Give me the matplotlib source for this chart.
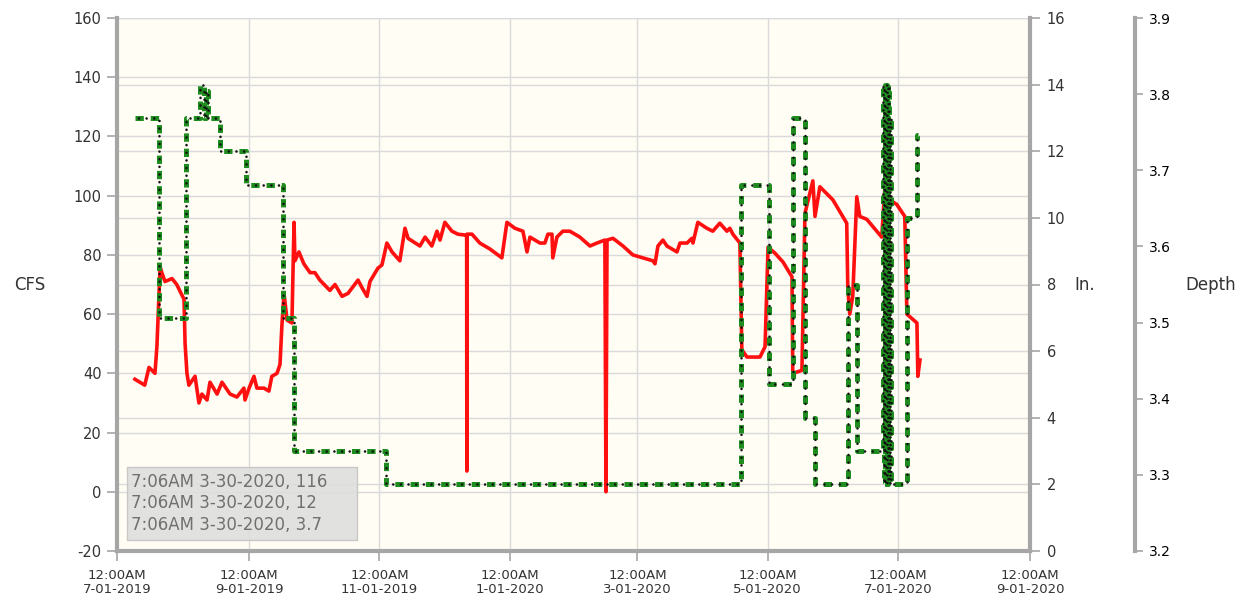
import matplotlib
matplotlib.use("Agg")
import matplotlib.pyplot as plt
from matplotlib.patches import Rectangle
import pandas as pd

plt.rcParams['font.family'] = ['DejaVu Sans']
plt.rcParams['lines.scale_dashes'] = False

# ---------------- data ----------------
cfs_dates = [
    "2019-07-09 10:00", "2019-07-14 00:00", "2019-07-16 00:00", "2019-07-18 19:00",
    "2019-07-19 17:00", "2019-07-21 05:00", "2019-07-22 00:00", "2019-07-23 12:00",
    "2019-07-26 19:00", "2019-07-29 00:00", "2019-08-01 10:00", "2019-08-01 22:00",
    "2019-08-02 19:00", "2019-08-03 17:00", "2019-08-06 14:00", "2019-08-08 10:00",
    "2019-08-09 19:00", "2019-08-12 05:00", "2019-08-13 14:00", "2019-08-16 22:00",
    "2019-08-19 05:00", "2019-08-23 00:00", "2019-08-26 05:00", "2019-08-29 12:00",
    "2019-08-30 00:00", "2019-08-31 22:00", "2019-09-03 05:00", "2019-09-04 14:00",
    "2019-09-07 22:00", "2019-09-10 05:00", "2019-09-11 14:00", "2019-09-14 00:00",
    "2019-09-15 10:00", "2019-09-16 07:00", "2019-09-17 07:00", "2019-09-18 17:00",
    "2019-09-21 00:00", "2019-09-22 00:00", "2019-09-22 10:00", "2019-09-24 07:00",
    "2019-09-26 14:00", "2019-09-29 12:00", "2019-10-01 19:00", "2019-10-04 02:00",
    "2019-10-08 19:00", "2019-10-11 05:00", "2019-10-14 12:00", "2019-10-17 07:00",
    "2019-10-22 00:00", "2019-10-23 19:00", "2019-10-26 05:00", "2019-10-27 14:00",
    "2019-10-31 07:00", "2019-11-02 05:00", "2019-11-04 12:00", "2019-11-06 22:00",
    "2019-11-10 14:00", "2019-11-13 00:00", "2019-11-14 10:00", "2019-11-20 00:00",
    "2019-11-22 10:00", "2019-11-25 14:00", "2019-11-28 00:00", "2019-11-29 10:00",
    "2019-12-01 17:00", "2019-12-05 00:00", "2019-12-07 19:00", "2019-12-11 02:00",
    "2019-12-11 22:00", "2019-12-12 00:00", "2019-12-12 02:00", "2019-12-14 10:00",
    "2019-12-18 02:00", "2019-12-22 19:00", "2019-12-28 10:00", "2019-12-30 19:00",
    "2020-01-03 12:00", "2020-01-07 07:00", "2020-01-09 05:00", "2020-01-10 14:00",
    "2020-01-15 07:00", "2020-01-17 14:00", "2020-01-19 00:00", "2020-01-20 22:00",
    "2020-01-21 07:00", "2020-01-23 05:00", "2020-01-26 00:00", "2020-01-29 07:00",
    "2020-02-03 00:00", "2020-02-07 17:00", "2020-02-11 00:00", "2020-02-14 17:00",
    "2020-02-15 05:00", "2020-02-15 17:00", "2020-02-18 12:00", "2020-02-23 05:00",
    "2020-02-27 19:00", "2020-03-03 12:00", "2020-03-08 05:00", "2020-03-09 05:00",
    "2020-03-10 14:00", "2020-03-12 22:00", "2020-03-14 19:00", "2020-03-19 12:00",
    "2020-03-20 22:00", "2020-03-24 05:00", "2020-03-26 12:00", "2020-03-27 00:00",
    "2020-03-29 07:00", "2020-04-02 12:00", "2020-04-05 07:00", "2020-04-08 14:00",
    "2020-04-11 22:00", "2020-04-13 07:00", "2020-04-14 17:00", "2020-04-18 00:00",
    "2020-04-18 22:00", "2020-04-21 07:00", "2020-04-27 10:00", "2020-04-29 19:00",
    "2020-05-01 05:00", "2020-05-04 10:00", "2020-05-08 05:00", "2020-05-12 10:00",
    "2020-05-12 19:00", "2020-05-17 02:00", "2020-05-18 12:00", "2020-05-22 05:00",
    "2020-05-23 05:00", "2020-05-25 12:00", "2020-05-31 14:00", "2020-06-07 02:00",
    "2020-06-07 14:00", "2020-06-08 12:00", "2020-06-09 22:00", "2020-06-11 19:00",
    "2020-06-13 05:00", "2020-06-16 12:00", "2020-06-23 12:00", "2020-06-25 00:00",
    "2020-06-27 07:00", "2020-06-30 14:00", "2020-07-04 07:00", "2020-07-05 07:00",
    "2020-07-10 00:00", "2020-07-10 10:00", "2020-07-11 10:00",
]
cfs_values = [
    38, 36, 42, 40,
    49, 76, 74, 71,
    72, 70, 65, 50,
    40, 36, 39, 30,
    33, 31, 37, 33,
    37, 33, 32, 35,
    31, 35, 39, 35,
    35, 34, 39, 40,
    43, 56, 67, 58,
    57, 91, 78, 81,
    77, 74, 74, 71.5,
    68, 70, 66, 67,
    71.5, 69, 66, 71,
    75.5, 76.6, 84, 81,
    78, 89, 85.6, 83,
    86, 83, 88, 85,
    91, 88, 87, 86.7,
    86.5, 7, 87, 87,
    84, 82, 79, 91,
    89, 88, 81, 86,
    84, 84, 87, 87,
    79, 86, 88, 88,
    86, 83, 84, 85,
    0, 85, 85.6, 83,
    80, 79, 78, 77,
    83, 85, 83, 81,
    84, 84, 85.6, 84,
    91, 89, 88, 90.7,
    88, 89, 87, 84,
    48, 45.5, 45.5, 49,
    82.6, 80.6, 77.6, 72.6,
    40, 41, 94, 105,
    93, 103, 98.6, 90.7,
    69, 60, 66, 99.6,
    93, 92, 86, 103,
    98.6, 97, 93, 60,
    57, 39, 44.5,
]

in_dates = [
    "2019-07-09 10:00", "2019-07-20 17:00", "2019-08-02 07:00", "2019-08-08 22:00",
    "2019-08-10 19:00", "2019-08-11 17:00", "2019-08-12 17:00", "2019-08-18 07:00",
    "2019-08-30 12:00", "2019-09-16 19:00", "2019-09-22 00:00", "2019-11-04 02:00",
    "2020-04-18 12:00", "2020-05-01 14:00", "2020-05-12 19:00", "2020-05-18 12:00",
    "2020-05-23 05:00", "2020-06-07 14:00", "2020-06-11 19:00", "2020-06-24 06:00",
    "2020-06-24 18:00", "2020-06-25 06:00", "2020-06-25 18:00", "2020-06-26 06:00",
    "2020-06-26 18:00", "2020-06-27 06:00", "2020-06-27 18:00", "2020-07-05 07:00",
    "2020-07-10 00:00", "2020-07-10 10:00",
]
in_values = [
    13, 7, 13, 14,
    13, 13.8, 13, 12,
    11, 7, 3, 2,
    11, 5, 13, 4,
    2, 8, 3, 14,
    2, 14, 2, 14,
    2, 13, 2, 10,
    12.5, 12.5,
]

x_tick_dates = ["2019-07-01", "2019-09-01", "2019-11-01", "2020-01-01",
                "2020-03-01", "2020-05-01", "2020-07-01", "2020-09-01"]
x_tick_labels = ["12:00AM\n7-01-2019", "12:00AM\n9-01-2019", "12:00AM\n11-01-2019",
                 "12:00AM\n1-01-2020", "12:00AM\n3-01-2020", "12:00AM\n5-01-2020",
                 "12:00AM\n7-01-2020", "12:00AM\n9-01-2020"]
cfs_ticks = list(range(-20, 161, 20))
in_ticks = list(range(0, 17, 2))
depth_ticks = [3.2, 3.3, 3.4, 3.5, 3.6, 3.7, 3.8, 3.9]
tooltip_lines = ["7:06AM 3-30-2020, 116", "7:06AM 3-30-2020, 12", "7:06AM 3-30-2020, 3.7"]

# ---------------- figure ----------------
W, H = 1255, 601
fig = plt.figure(figsize=(W / 100, H / 100), dpi=100)
L, R, T, B = 117, 1030, 18, 551
ax1 = fig.add_axes([L / W, (H - B) / H, (R - L) / W, (B - T) / H])
ax2 = ax1.twinx()
ax3 = ax1.twinx()

bg = "#fffdf4"
grid_c = "#dadada"
spine_c = "#a6a6a6"
text_c = "#333333"

ax1.set_facecolor(bg)
xlo, xhi = pd.Timestamp("2019-07-01"), pd.Timestamp("2020-09-01")
ax1.set_xlim(xlo, xhi)
ax1.set_ylim(-20, 160)
ax2.set_ylim(0, 16)
ax3.set_ylim(3.2, 3.9)

# gridlines (behind data)
for v in cfs_ticks:
    ax1.axhline(v, color=grid_c, lw=1, zorder=0)
c0, c1 = ax1.get_ylim()
i0, i1 = ax2.get_ylim()
for v in in_ticks:
    ax1.axhline(c0 + (v - i0) * (c1 - c0) / (i1 - i0), color=grid_c, lw=1, zorder=0)
for d in x_tick_dates:
    ax1.axvline(pd.Timestamp(d), color=grid_c, lw=1, zorder=0)

# red CFS line
ax1.plot(pd.to_datetime(cfs_dates), cfs_values, color="#ff1010", lw=2.6,
         solid_joinstyle="round", zorder=3)

# green dash-dot (inches) line
gd = pd.to_datetime(in_dates)
ax2.plot(gd, in_values, drawstyle="steps-post", color="#1f8c1f", lw=3.6,
         dashes=(6.0, 5.0), dash_capstyle="butt", zorder=3)
ax2.plot(gd, in_values, drawstyle="steps-post", color="#111111", lw=1.9,
         linestyle=(3.0, (0.01, 5.5)), dash_capstyle="round", zorder=4)

# axes styling
ax1.set_xticks(pd.to_datetime(x_tick_dates))
ax1.set_xticklabels(x_tick_labels, fontsize=9.5, color=text_c, linespacing=1.1)
ax1.set_yticks(cfs_ticks)
ax1.set_yticklabels([str(v) for v in cfs_ticks], fontsize=10.5, color=text_c)
ax2.set_yticks(in_ticks)
ax2.set_yticklabels([str(v) for v in in_ticks], fontsize=10.5, color=text_c)
ax3.set_yticks(depth_ticks)
ax3.set_yticklabels([f"{v:.1f}" for v in depth_ticks], fontsize=10.5, color=text_c)

for ax in (ax1, ax2, ax3):
    for s in ax.spines.values():
        s.set_visible(False)
ax1.spines["left"].set_visible(True)
ax1.spines["bottom"].set_visible(True)
ax1.spines["left"].set_color(spine_c)
ax1.spines["bottom"].set_color(spine_c)
ax1.spines["left"].set_linewidth(3)
ax1.spines["bottom"].set_linewidth(3)
ax2.spines["right"].set_visible(True)
ax2.spines["right"].set_color(spine_c)
ax2.spines["right"].set_linewidth(3)
ax3.spines["right"].set_visible(True)
ax3.spines["right"].set_position(("axes", (1135 - L) / (R - L)))
ax3.spines["right"].set_color(spine_c)
ax3.spines["right"].set_linewidth(3)

ax1.tick_params(axis="x", length=7, width=1.2, color=spine_c, pad=6)
ax1.tick_params(axis="y", length=7, width=1.2, color=spine_c, pad=4)
ax2.tick_params(axis="y", length=7, width=1.2, color=spine_c, pad=5)
ax3.tick_params(axis="y", length=6, width=1.2, color=spine_c, pad=4)

# axis titles
fig.text(30 / W, 1 - 285 / H, "CFS", fontsize=12, color=text_c, ha="center", va="center")
fig.text(1085 / W, 1 - 285 / H, "In.", fontsize=12, color=text_c, ha="center", va="center")
fig.text(1211 / W, 1 - 285 / H, "Depth", fontsize=12, color=text_c, ha="center", va="center")

# tooltip box
fig.patches.append(Rectangle((127 / W, 1 - 540 / H), (357 - 127) / W, (540 - 467) / H,
                             transform=fig.transFigure, facecolor="#dedede", alpha=0.9,
                             edgecolor="#c4c4c4", lw=1, zorder=10))
fig.text(131 / W, 1 - 503.5 / H, "\n".join(tooltip_lines), fontsize=12, color="#707070",
         ha="left", va="center", linespacing=1.28, zorder=11)

fig.savefig("out.png", dpi=100)
